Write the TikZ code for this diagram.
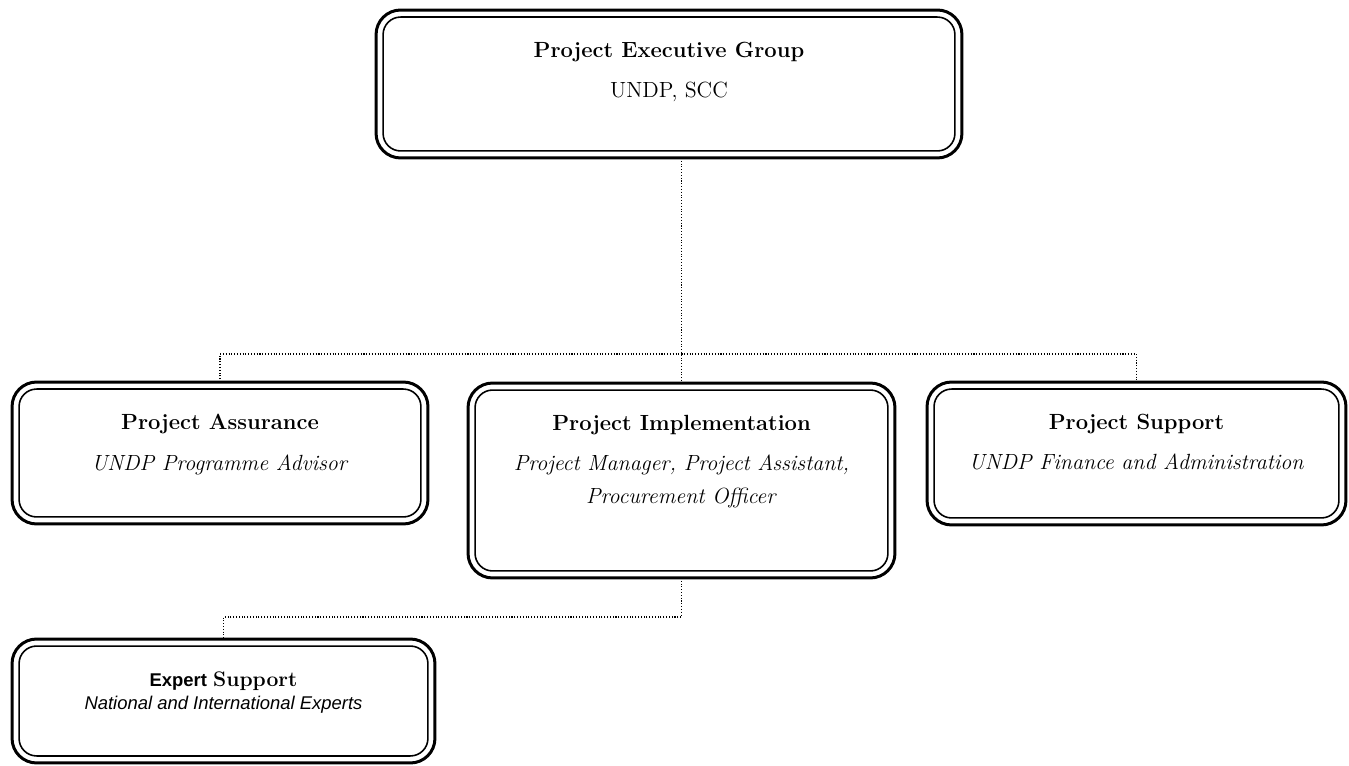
\documentclass[tikz,border=0pt]{standalone}
\usepackage{fontspec}
\newfontfamily\expertfont{Liberation Sans}
\usetikzlibrary{positioning}

\tikzset{
  unit/.style={draw, line width=1.7pt, rounded corners=14pt, inner sep=0pt, outer sep=0pt},
  unittext/.style={align=center, anchor=north, font=\fontsize{12.5}{18.8}\selectfont},
  link/.style={densely dotted, line width=0.6pt},
}

\begin{document}
\begin{tikzpicture}[x=0.02cm, y=-0.02cm]
\useasboundingbox (0,0) rectangle (1349,766);
% boxes
\node[unit, minimum width=11.72cm, minimum height=2.96cm] (peg) at (669,84) {};
\node[unit, minimum width=8.32cm, minimum height=2.84cm] (assur) at (220,453) {};
\node[unit, minimum width=8.54cm, minimum height=3.9cm] (impl) at (681.5,480.5) {};
\node[unit, minimum width=8.38cm, minimum height=2.86cm] (supp) at (1136.5,453.5) {};
\node[unit, minimum width=8.46cm, minimum height=2.48cm] (expert) at (223.5,701) {};
% inner line of the double border
\foreach \n in {peg,assur,impl,supp,expert}
  \draw[line width=0.9pt, rounded corners=10pt] ([shift={(4pt,4pt)}]\n.south west) rectangle ([shift={(-4pt,-4pt)}]\n.north east);
% texts
\node[unittext, below=15pt of peg.north] (pegtxt) {\textbf{Project Executive Group}\\[4pt] UNDP, SCC};
\node[unittext, below=15pt of assur.north] (assurtxt) {\textbf{Project Assurance}\\[4pt] \textit{UNDP Programme Advisor}};
\node[unittext, below=15pt of impl.north] (impltxt) {\textbf{Project Implementation}\\[4pt] \textit{Project Manager, Project Assistant,}\\ \textit{Procurement Officer}};
\node[unittext, below=15pt of supp.north] (supptxt) {\textbf{Project Support}\\[4pt] \textit{UNDP Finance and Administration}};
\node[unittext, below=15pt of expert.north, font=\fontsize{10.5}{13}\selectfont] (experttxt) {{\expertfont\bfseries Expert} {\fontsize{12}{13}\selectfont\bfseries Support}\\ {\expertfont\itshape National and International Experts}};
% connectors
\coordinate (bus) at (682,354);
\coordinate (fork) at (223.5,617);
\draw[link] (peg.south -| impl.north) -- (impl.north);
\draw[link] (assur.north) |- (bus) -| (supp.north);
\draw[link] (impl.south) |- (fork) -- (expert.north);
\end{tikzpicture}
\end{document}
